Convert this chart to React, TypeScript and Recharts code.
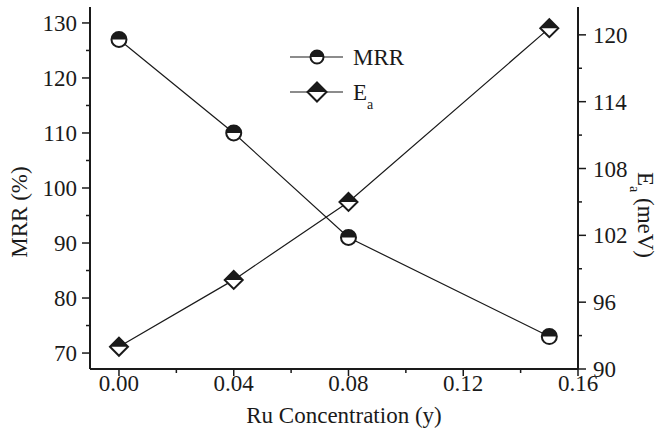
import { ComposedChart, Line, XAxis, YAxis, Legend } from "recharts";

const conc = [0, 0.04, 0.08, 0.15];
const mrr = [127, 110, 91, 73];
const ea = [92, 98, 105, 120.6];

const xTicks = [0, 0.02, 0.04, 0.06, 0.08, 0.1, 0.12, 0.14, 0.16];
const mrrTicks = [70, 75, 80, 85, 90, 95, 100, 105, 110, 115, 120, 125, 130];
const eaTicks = [90, 93, 96, 99, 102, 105, 108, 111, 114, 117, 120];

const datos = conc.map((c, i) => ({ c, mrr: mrr[i], ea: ea[i] }));

const tinta = "#1a1a1a";
const fuente = "'Liberation Serif', 'Times New Roman', serif";
const tam = 23;

const esMayor = (v: number, paso: number, base = 0) =>
  Math.abs((v - base) / paso - Math.round((v - base) / paso)) < 1e-6;

function MedioCirculo({ cx, cy, r = 7.5 }: { cx: number; cy: number; r?: number }) {
  return (
    <g>
      <circle cx={cx} cy={cy} r={r} fill="#fff" stroke={tinta} strokeWidth={2} />
      <path d={`M${cx - r},${cy} A${r},${r} 0 0 1 ${cx + r},${cy} Z`} fill={tinta} />
    </g>
  );
}

function MedioRombo({ cx, cy, s = 9 }: { cx: number; cy: number; s?: number }) {
  return (
    <g>
      <polygon
        points={`${cx},${cy - s} ${cx + s},${cy} ${cx},${cy + s} ${cx - s},${cy}`}
        fill="#fff"
        stroke={tinta}
        strokeWidth={2}
        strokeLinejoin="miter"
      />
      <polygon points={`${cx},${cy - s} ${cx + s},${cy} ${cx - s},${cy}`} fill={tinta} />
    </g>
  );
}

function TickAbajo({ x, y, payload }: any) {
  const v = payload.value as number;
  const mayor = esMayor(v, 0.04);
  return (
    <g>
      <line x1={x} x2={x} y1={y} y2={y + (mayor ? 7 : 4)} stroke={tinta} strokeWidth={1.5} />
      {mayor && (
        <text x={x} y={y + 22} textAnchor="middle" fontFamily={fuente} fontSize={tam} fill={tinta}>
          {v.toFixed(2)}
        </text>
      )}
    </g>
  );
}

function TickArriba({ x, y, payload }: any) {
  const mayor = esMayor(payload.value, 0.04);
  return <line x1={x} x2={x} y1={y} y2={y + (mayor ? 7 : 4)} stroke={tinta} strokeWidth={1.5} />;
}

function TickIzq({ x, y, payload }: any) {
  const v = payload.value as number;
  const mayor = esMayor(v, 10);
  return (
    <g>
      <line x1={x - (mayor ? 8 : 4)} x2={x} y1={y} y2={y} stroke={tinta} strokeWidth={1.5} />
      {mayor && (
        <text x={x - 13} y={y + 8} textAnchor="end" fontFamily={fuente} fontSize={tam} fill={tinta}>
          {v}
        </text>
      )}
    </g>
  );
}

function TickDer({ x, y, payload }: any) {
  const v = payload.value as number;
  const mayor = esMayor(v, 6, 90);
  return (
    <g>
      <line x1={x} x2={x + (mayor ? 8 : 4)} y1={y} y2={y} stroke={tinta} strokeWidth={1.5} />
      {mayor && (
        <text x={x + 15} y={y + 8} textAnchor="start" fontFamily={fuente} fontSize={tam} fill={tinta}>
          {v}
        </text>
      )}
    </g>
  );
}

function Leyenda() {
  return (
    <svg width={130} height={70} style={{ display: "block", overflow: "visible" }}>
      <line x1={5} x2={58} y1={15} y2={15} stroke={tinta} strokeWidth={1.2} />
      <MedioCirculo cx={32} cy={15} r={6.5} />
      <text x={68} y={23} fontFamily={fuente} fontSize={tam} fill={tinta}>MRR</text>
      <line x1={5} x2={58} y1={50} y2={50} stroke={tinta} strokeWidth={1.2} />
      <MedioRombo cx={32} cy={50} s={9.5} />
      <text x={68} y={58} fontFamily={fuente} fontSize={tam} fill={tinta}>
        E<tspan fontSize={14} dy={9}>a</tspan>
      </text>
    </svg>
  );
}

const eje = { stroke: tinta, strokeWidth: 2 };

export default function App() {
  return (
    <div style={{ position: "absolute", left: 0, top: 0, background: "#fff" }}>
      <ComposedChart width={671} height={432} data={datos} margin={{ top: 7, right: 0, bottom: 0, left: 0 }}>
        <XAxis
          dataKey="c"
          type="number"
          domain={[-0.0101, 0.16]}
          ticks={xTicks}
          interval={0}
          allowDataOverflow
          height={63}
          axisLine={eje}
          tickLine={false}
          tickSize={0}
          tickMargin={0}
          tick={<TickAbajo />}
          label={{
            content: () => (
              <text x={344} y={423} textAnchor="middle" fontFamily={fuente} fontSize={tam} fill={tinta}>
                Ru Concentration (y)
              </text>
            ),
          }}
        />
        <XAxis
          xAxisId="top"
          dataKey="c"
          type="number"
          orientation="top"
          domain={[-0.0101, 0.16]}
          ticks={xTicks}
          interval={0}
          allowDataOverflow
          height={0}
          axisLine={eje}
          tickLine={false}
          tickSize={0}
          tickMargin={0}
          tick={<TickArriba />}
        />
        <YAxis
          yAxisId="mrr"
          type="number"
          domain={[67.1, 132.9]}
          ticks={mrrTicks}
          interval={0}
          allowDataOverflow
          width={90}
          axisLine={eje}
          tickLine={false}
          tickSize={0}
          tickMargin={0}
          tick={<TickIzq />}
          label={{
            content: () => (
              <text
                x={27}
                y={212}
                textAnchor="middle"
                fontFamily={fuente}
                fontSize={tam}
                fill={tinta}
                transform="rotate(-90 27 212)"
              >
                MRR (%)
              </text>
            ),
          }}
        />
        <YAxis
          yAxisId="ea"
          orientation="right"
          type="number"
          domain={[90, 122.5]}
          ticks={eaTicks}
          interval={0}
          allowDataOverflow
          width={93}
          axisLine={eje}
          tickLine={false}
          tickSize={0}
          tickMargin={0}
          tick={<TickDer />}
          label={{
            content: () => (
              <text
                x={638}
                y={215}
                textAnchor="middle"
                fontFamily={fuente}
                fontSize={tam}
                fill={tinta}
                transform="rotate(90 638 215)"
              >
                E<tspan fontSize={14} dy={8}>a</tspan>
                <tspan dy={-8}> (meV)</tspan>
              </text>
            ),
          }}
        />
        <Legend
          layout="horizontal"
          verticalAlign="middle"
          align="center"
          wrapperStyle={{ left: 285, top: 42, width: 130, height: 70 }}
          content={() => <Leyenda />}
        />
        <Line
          yAxisId="mrr"
          dataKey="mrr"
          stroke={tinta}
          strokeWidth={1.2}
          isAnimationActive={false}
          dot={(p: any) => <MedioCirculo key={`m${p.index}`} cx={p.cx} cy={p.cy} />}
          activeDot={false}
        />
        <Line
          yAxisId="ea"
          dataKey="ea"
          stroke={tinta}
          strokeWidth={1.2}
          isAnimationActive={false}
          dot={(p: any) => <MedioRombo key={`e${p.index}`} cx={p.cx} cy={p.cy} />}
          activeDot={false}
        />
      </ComposedChart>
    </div>
  );
}
